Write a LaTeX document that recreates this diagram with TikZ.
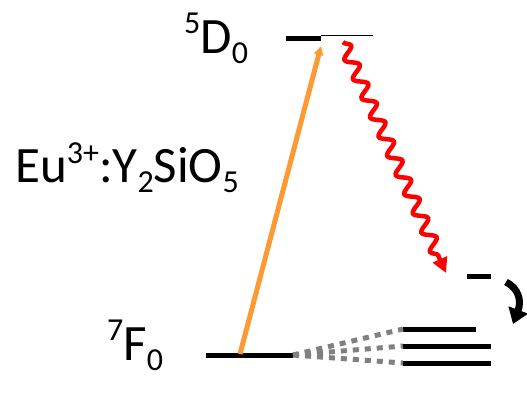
\documentclass[tikz,border=0pt]{standalone}
\usepackage{fontspec}
\setmainfont{Carlito}
\usepackage{tikz}
\usetikzlibrary{arrows.meta}
\usetikzlibrary{decorations.pathmorphing}

\definecolor{arancio}{RGB}{255,153,51}

\newcommand{\apice}[1]{\raisebox{20pt}{\fontsize{32}{32}\selectfont #1}}
\newcommand{\pedice}[1]{\raisebox{-10pt}{\fontsize{32}{32}\selectfont #1}}

\begin{document}
\begin{tikzpicture}[x=1pt, y=-1pt, >=latex,
    livello/.style={line width=5pt, black},
    etichetta/.style={anchor=base west, inner sep=0pt, font=\fontsize{51}{51}\selectfont}]

  \useasboundingbox (0, 0) rectangle (527, 402);

  % 1. Livelli energetici
  \draw[livello] (286, 38) -- (321, 38) coordinate (d0);
  \draw[line width=1pt] (321, 35.5) -- (373, 35.5);
  \draw[livello] (206, 355) coordinate (f0s) -- (293, 355) coordinate (f0);
  \draw[livello] (467, 276) -- (491, 276);
  \draw[livello] (403, 329) coordinate (s1) -- (476, 329);
  \draw[livello] (403, 346) coordinate (s2) -- (491, 346);
  \draw[livello] (403, 363) coordinate (s3) -- (491, 363);

  % 2. Etichette
  \node[etichetta] (lD) at (184, 53) {\apice{5}D\pedice{0}};
  \node[etichetta] (lF) at (107, 360) {\apice{7}F\pedice{0}};
  \node[etichetta] (lEu) at (15, 182) {Eu\raisebox{19pt}{\fontsize{32}{32}\selectfont 3+}:Y\pedice{2}SiO\pedice{5}};

  % 3. Sottolivelli (tratteggiati)
  \foreach \s in {s1, s2, s3}
    \draw[gray, line width=5pt, dash pattern=on 6pt off 6pt] (f0) -- (\s);

  % 4. Eccitazione (arancione)
  \coordinate (pa) at (240, 354);
  \coordinate (pb) at (321, 46);
  \draw[-{Triangle[width=9pt, length=9pt]}, line width=5pt, arancio] (pa) -- (pb);

  % 5. Decadimento non radiativo (rosso, ondulato)
  \coordinate (ra) at (343, 42);
  \coordinate (rb) at (446, 273);
  \draw[-{Triangle[width=15pt, length=15pt]}, line width=4.5pt, red,
    decorate, decoration={snake, amplitude=6pt, segment length=21pt, post length=15pt}] (ra) -- (rb);

  % 6. Freccia curva
  \coordinate (ca) at (506, 282);
  \coordinate (cb) at (513, 324);
  \draw[-{Triangle[width=20pt, length=15pt]}, line width=7pt] (ca) .. controls (518, 288) and (522, 300) .. (cb);

\end{tikzpicture}
\end{document}
